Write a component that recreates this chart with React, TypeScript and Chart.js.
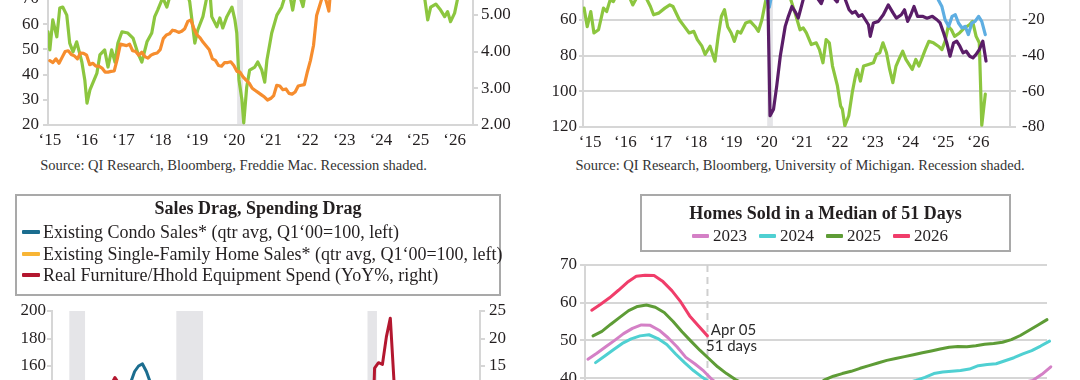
import React, { useEffect, useRef } from "react";
import { Chart, registerables } from "chart.js";

Chart.register(...registerables);

const SERIF = "'Palatino Linotype', 'Book Antiqua', Palatino, 'Liberation Serif', 'Times New Roman', serif";
const SANS = "Lato, 'Open Sans', 'Noto Sans', sans-serif";
const INK = "#231f20";
const RULE = "#d6d6d6";
const SHADE = "#e5e5e8";

// ---------------- Panel A (top-left): index (left) vs 30y mortgage rate (right)
const aGreenYears = [2014.95, 2015.0, 2015.08, 2015.19, 2015.27, 2015.35, 2015.46, 2015.54, 2015.63, 2015.73, 2015.87, 2015.95, 2016.01, 2016.09, 2016.28, 2016.36, 2016.49, 2016.58, 2016.68, 2016.77, 2016.85, 2016.96, 2017.12, 2017.26, 2017.39, 2017.5, 2017.64, 2017.77, 2017.85, 2017.93, 2018.07, 2018.18, 2018.32, 2018.48, 2018.67, 2018.8, 2018.94, 2019.02, 2019.16, 2019.27, 2019.35, 2019.4, 2019.54, 2019.62, 2019.7, 2019.81, 2019.95, 2020.03, 2020.08, 2020.14, 2020.22, 2020.27, 2020.35, 2020.43, 2020.57, 2020.65, 2020.76, 2020.84, 2020.9, 2021.03, 2021.17, 2021.3, 2021.39, 2021.49, 2021.6, 2021.71, 2021.88, 2022.01, 2022.2, 2022.39, 2022.61, 2022.8, 2023.0, 2023.3, 2023.6, 2023.9, 2024.2, 2024.5, 2024.8, 2025.0, 2025.19, 2025.27, 2025.35, 2025.49, 2025.62, 2025.73, 2025.81, 2025.89, 2026.0, 2026.08, 2026.2];
const aGreenValues = [57, 49.8, 61.7, 55, 66.4, 66.8, 63.6, 52.5, 49, 53, 45, 37.9, 28.7, 33.9, 40.6, 47.8, 49.8, 43, 49.8, 45, 52.5, 57, 56.5, 54.5, 48.6, 45, 53, 56.5, 63, 65.6, 70.5, 66.8, 74, 78, 75, 69, 52.5, 57.7, 63, 71, 73, 63, 59, 62.5, 58.5, 63, 66.8, 61.7, 56.5, 37.9, 30, 20.8, 35, 41.8, 43, 45, 41.8, 37, 45.8, 56.5, 63.6, 66.8, 71, 74, 65.6, 75, 67, 78, 85, 80, 76, 82, 88, 84, 90, 86, 92, 88, 84, 78, 70, 61.7, 66.8, 68, 65.6, 63, 65, 61, 64.4, 70, 74];
const aRateStartYear = 2015;
const aRateMonthly = [
  3.75, 3.7, 3.8, 3.68, 3.84, 4.0, 4.02, 3.92, 3.88, 3.8, 3.96, 3.95,
  3.9, 3.64, 3.68, 3.6, 3.6, 3.55, 3.44, 3.44, 3.46, 3.47, 3.8, 4.2,
  4.18, 4.16, 4.2, 4.02, 4.0, 3.9, 3.98, 3.86, 3.82, 3.9, 3.94, 3.96,
  4.05, 4.35, 4.45, 4.48, 4.58, 4.56, 4.52, 4.55, 4.62, 4.82, 4.86, 4.62,
  4.45, 4.37, 4.25, 4.15, 4.05, 3.8, 3.76, 3.62, 3.6, 3.7, 3.7, 3.72,
  3.62, 3.46, 3.44, 3.31, 3.22, 3.14, 3.0, 2.94, 2.88, 2.82, 2.76, 2.68,
  2.72, 2.8, 3.08, 3.06, 2.96, 2.98, 2.86, 2.84, 2.9, 3.06, 3.08, 3.1,
  3.45, 3.76, 4.17, 4.98, 5.25, 5.52, 5.41, 5.1, 6.11, 6.9, 6.81, 6.36,
  6.27, 6.26, 6.54, 6.34, 6.43, 6.71, 6.84, 7.07, 7.2, 7.62, 7.44, 6.82,
  6.64, 6.78, 6.82, 7.0, 7.06, 6.92, 6.85, 6.5, 6.18, 6.43, 6.81, 6.72,
  6.96, 6.84, 6.65, 6.73, 6.82, 6.82, 6.72, 6.59, 6.35, 6.25, 6.24, 6.19,
  6.1, 6.05, 6.15,
];
const aRecessions = [[2020.09, 2020.25]];
const aSource = "Source: QI Research, Bloomberg, Freddie Mac. Recession shaded.";

// ---------------- Panel B (top-right): sentiment series
const bGreenYears = [2014.83, 2014.92, 2015.02, 2015.11, 2015.24, 2015.38, 2015.47, 2015.57, 2015.66, 2015.8, 2015.95, 2016.11, 2016.21, 2016.34, 2016.45, 2016.57, 2016.71, 2016.8, 2016.94, 2017.12, 2017.26, 2017.35, 2017.53, 2017.67, 2017.81, 2017.94, 2018.04, 2018.17, 2018.26, 2018.4, 2018.54, 2018.63, 2018.72, 2018.81, 2018.9, 2019.0, 2019.09, 2019.18, 2019.27, 2019.41, 2019.54, 2019.68, 2019.77, 2019.87, 2020.0, 2020.1, 2020.3, 2020.5, 2020.66, 2020.81, 2020.95, 2021.04, 2021.13, 2021.27, 2021.41, 2021.5, 2021.6, 2021.69, 2021.78, 2021.87, 2022.01, 2022.1, 2022.15, 2022.22, 2022.33, 2022.43, 2022.52, 2022.57, 2022.66, 2022.75, 2022.89, 2023.03, 2023.12, 2023.21, 2023.3, 2023.4, 2023.49, 2023.58, 2023.67, 2023.77, 2023.86, 2023.95, 2024.04, 2024.13, 2024.23, 2024.32, 2024.41, 2024.5, 2024.6, 2024.73, 2024.87, 2024.97, 2025.06, 2025.15, 2025.24, 2025.33, 2025.47, 2025.61, 2025.75, 2025.84, 2025.94, 2026.03, 2026.1, 2026.2];
const bGreenValues = [53.5, 63.9, 55.4, 67.4, 65.6, 53.5, 55.4, 48.9, 49.8, 44, 45, 47, 51.7, 47, 44, 47, 52.6, 57.2, 56.3, 53.5, 51.7, 52.6, 60, 63.7, 67.4, 66.5, 71.1, 74.8, 79.4, 74.8, 83.2, 69.3, 58.2, 54.4, 63.9, 67.4, 72.1, 66.5, 67.4, 61.8, 60.9, 63.9, 66.5, 60, 47, 42, 38, 40, 47, 56.3, 65.6, 64.6, 67.4, 73.9, 72.9, 76.7, 84.1, 71.1, 72.9, 85.9, 97, 108.2, 110, 119.3, 113.7, 100.7, 91.5, 87.8, 94.3, 85.9, 85, 84.1, 79.4, 78.5, 72.9, 78.5, 87.8, 95.2, 85.9, 81.3, 77.6, 82.2, 85, 87.8, 82.2, 85.9, 81.3, 76.7, 72.1, 72.9, 74.8, 76.7, 72.1, 63.7, 65.6, 69.3, 67.4, 64.6, 62.8, 60.9, 69.3, 72.9, 119, 101.6];
const bPurpleYears = [2019.9, 2020.0, 2020.04, 2020.1, 2020.2, 2020.29, 2020.39, 2020.53, 2020.62, 2020.72, 2020.81, 2020.9, 2021.0, 2021.09, 2021.3, 2021.55, 2021.7, 2022.0, 2022.1, 2022.2, 2022.34, 2022.43, 2022.52, 2022.61, 2022.71, 2022.8, 2022.89, 2022.94, 2023.03, 2023.17, 2023.31, 2023.45, 2023.59, 2023.68, 2023.82, 2023.91, 2024.0, 2024.09, 2024.18, 2024.28, 2024.42, 2024.55, 2024.7, 2024.83, 2024.92, 2025.02, 2025.11, 2025.2, 2025.3, 2025.39, 2025.48, 2025.57, 2025.66, 2025.76, 2025.85, 2025.94, 2026.03, 2026.13, 2026.22];
const bPurpleValues = [2, -2, -8.9, -73.7, -70, -57, -40.4, -23.7, -18.1, -12.6, -15.4, -19, -11.7, -5, -4, -11, -3, -10, -4, -7, -14.4, -16.3, -15.4, -18.1, -17.2, -20, -22.8, -29.3, -21.8, -20.9, -17.2, -11.7, -16.3, -19.1, -17.2, -14.4, -20.9, -17.2, -12.6, -18.1, -18.1, -19.1, -18.1, -20, -21.8, -27.4, -33, -40.4, -33, -32, -34.8, -38.5, -37.6, -40.4, -41.3, -39.4, -36.7, -32, -43.1];
const bBlueYears = [2019.9, 2020.02, 2020.08, 2020.15, 2020.5, 2021.5, 2022.5, 2023.5, 2024.5, 2024.8, 2024.87, 2024.97, 2025.06, 2025.16, 2025.26, 2025.35, 2025.44, 2025.54, 2025.63, 2025.72, 2025.82, 2025.91, 2026.01, 2026.1, 2026.2];
const bBlueValues = [-4, -9, -13, -6, -3, 2, 0, 1, -2, -5, -8.9, -12.6, -20, -23.7, -18.1, -17.2, -21.8, -24.6, -23.7, -28.3, -21.8, -20.9, -18.1, -20.9, -28.3];
const bRecessions = [[2020.02, 2020.18]];
const bSource = "Source: QI Research, Bloomberg, University of Michigan. Recession shaded.";

// ---------------- Panel C (bottom-left): quarterly, starting Q1 2000
const cStartYear = 2000;
const cCondo = [100, 104, 106, 110, 112, 115, 117, 118, 120, 124, 128, 130, 128, 132, 138, 140, 140, 143, 145, 146, 148, 156, 160, 161.5, 156, 148, 140, 130, 120, 112, 100, 85, 72, 68, 65, 62, 64, 70, 78, 86, 80, 84, 72, 76, 76, 78, 80, 82, 86, 90, 94, 98, 102, 106, 108, 104, 100, 100, 104, 108, 110, 112, 114, 112, 110, 112, 114, 116, 118, 120, 118, 116, 114, 110, 106, 104, 102, 104, 106, 108, 108, 80, 120, 138, 140, 142, 136, 134, 128, 112, 96, 82, 76, 74, 72, 70, 68, 70, 68, 68, 66, 67, 66];
const cSingle = [100, 98, 96, 98, 100, 102, 103, 104, 106, 108, 112, 114, 114, 118, 126, 128, 126, 130, 132, 134, 136, 138, 140, 136, 130, 124, 118, 114, 108, 100, 92, 82, 78, 76, 78, 76, 76, 80, 88, 104, 86, 92, 76, 84, 88, 86, 88, 90, 94, 96, 98, 102, 106, 110, 114, 108, 104, 104, 108, 110, 112, 116, 118, 116, 116, 120, 120, 122, 122, 122, 120, 124, 120, 118, 116, 112, 110, 114, 116, 118, 118, 92, 128, 136, 132, 128, 128, 130, 124, 110, 98, 86, 86, 86, 82, 80, 80, 80, 80, 80, 82, 80, 82];
const cFurniture = [9, 8, 7, 5, 2, 1, 0, 3, 5, 6, 6, 7, 8, 9, 10, 11.5, 12.9, 11.8, 11, 10, 9, 8, 7, 7, 6, 5, 5, 4, 4, 3, 2, 1, -2, -4, -6, -9, -11, -10, -7, -3, 2, 4, 5, 6, 5, 4, 3, 4, 5, 6, 6, 7, 7, 7, 8, 8, 6, 6, 7, 7, 7, 6, 6, 5, 4, 4, 5, 6, 7, 8, 7, 8, 7, 6, 5, 4, 3, 4, 5, 5, 3, -8, 14.6, 15.6, 15.3, 20.3, 23.7, 11.5, 2, -3, -5, -6, -4, -3, -2, -1, 0, 1, 2, 2, 3, 2, 1];
const cRecessions = [[2001.1, 2002.1], [2007.9, 2009.6], [2020.05, 2020.65]];
const cTitle = "Sales Drag, Spending Drag";
const cLegendLabels = [
  "Existing Condo Sales* (qtr avg, Q1\u201800=100, left)",
  "Existing Single-Family Home Sales* (qtr avg, Q1\u201800=100, left)",
  "Real Furniture/Hhold Equipment Spend (YoY%, right)",
];
const cColors = ["#1b6d8f", "#f8b535", "#b3172f"];

// ---------------- Panel D (bottom-right): weekly median days on market, by year
const dYears = ["2023", "2024", "2025", "2026"];
const dFirstSunday = [1, 7, 5, 4]; // day-of-year of the first weekly observation
const d2023 = [45.0, 46.6, 48.3, 50.0, 51.8, 53.2, 54.1, 54.0, 52.7, 50.7, 48.3, 45.5, 43.8, 41.9, 39.5, 37.8, 36.5, 35.4, 34.5, 33.8, 33.2, 32.8, 32.5, 32.4, 32.4, 32.6, 32.9, 33.3, 33.7, 34.1, 34.5, 34.9, 35.2, 35.5, 35.8, 36.0, 36.2, 36.4, 36.6, 36.7, 36.8, 36.9, 37.0, 37.1, 37.3, 37.5, 37.7, 37.9, 38.3, 38.9, 39.4, 41.0, 43.0];
const d2024 = [44.1, 45.8, 47.5, 49.2, 50.4, 51.2, 51.5, 50.5, 48.9, 46.4, 44.1, 42.0, 40.2, 38.6, 37.2, 36.0, 35.0, 34.2, 33.6, 33.2, 33.0, 33.0, 33.2, 33.5, 33.9, 34.3, 34.7, 35.1, 35.5, 35.9, 36.3, 36.7, 37.1, 37.6, 38.1, 38.7, 39.4, 40.2, 41.2, 41.6, 41.8, 42.0, 42.4, 43.3, 43.6, 43.8, 44.6, 45.4, 46.4, 47.3, 48.5, 49.8];
const d2025 = [51.2, 52.4, 54.3, 56.1, 57.9, 59.0, 59.4, 58.8, 57.4, 55.0, 52.3, 49.8, 47.4, 45.2, 43.0, 41.2, 39.6, 38.4, 37.4, 36.6, 36.0, 35.6, 35.5, 35.8, 36.6, 37.8, 39.5, 40.5, 41.2, 41.8, 42.6, 43.3, 44.0, 44.7, 45.2, 45.7, 46.2, 46.7, 47.2, 47.7, 48.2, 48.4, 48.3, 48.6, 49.0, 49.2, 49.5, 50.2, 51.3, 52.7, 54.1, 55.5];
const d2026 = [58.0, 59.6, 61.3, 63.3, 65.4, 67.0, 67.3, 67.2, 65.6, 63.2, 60.2, 56.5, 53.8, 51.2];
const dColors = ["#d480c6", "#4fd0d2", "#5e9c36", "#f03d6a"];
const dTitle = "Homes Sold in a Median of 51 Days";
const dMarkerDate = "Apr 05";

// ---------------- helpers
const tickFont = { family: SERIF, size: 17 };

const yearTick = (v: any) => {
  const n = Number(v);
  return Number.isInteger(n) ? "\u2018" + String(n).slice(2) : "";
};

function makeShade(ranges: number[][]) {
  return {
    id: "shade",
    beforeDraw(chart: any) {
      const { ctx, chartArea, scales } = chart;
      ctx.save();
      ctx.fillStyle = SHADE;
      ranges.forEach(([a, b]) => {
        const x1 = scales.x.getPixelForValue(a);
        const x2 = scales.x.getPixelForValue(b);
        ctx.fillRect(x1, chartArea.top, x2 - x1, chartArea.bottom - chartArea.top);
      });
      ctx.restore();
    },
  };
}

function yScale(o: any) {
  const ticks: any = { stepSize: o.step, padding: o.pad, color: INK, font: tickFont, autoSkip: false };
  if (o.fmt) ticks.callback = o.fmt;
  return {
    type: "linear",
    position: o.position,
    min: o.min,
    max: o.max,
    reverse: !!o.reverse,
    afterFit: (s: any) => {
      s.width = o.width;
    },
    grid: { drawOnChartArea: !!o.lines, drawTicks: true, tickLength: o.tick, color: RULE, lineWidth: 2 },
    border: { display: true, color: RULE, width: 2 },
    ticks,
  };
}

function yearAxis(min: number, max: number, height: number) {
  return {
    type: "linear",
    min,
    max,
    afterFit: (s: any) => {
      s.height = height;
    },
    grid: { display: false, drawTicks: false },
    border: { display: true, color: RULE, width: 2 },
    ticks: { stepSize: 1, includeBounds: false, autoSkip: false, maxRotation: 0, padding: 5, color: INK, font: tickFont, callback: yearTick },
  };
}

const pairs = (xs: number[], ys: number[]) => xs.map((x, i) => ({ x, y: ys[i] }));

function line(data: any[], color: string, axis: string, width = 3.2, extra: any = {}) {
  return {
    data,
    borderColor: color,
    backgroundColor: color,
    borderWidth: width,
    pointRadius: 0,
    yAxisID: axis,
    borderJoinStyle: "round",
    borderCapStyle: "round",
    tension: 0,
    ...extra,
  };
}

const baseOptions = (padding: any) => ({
  animation: false,
  responsive: false,
  events: [],
  layout: { padding },
  plugins: { legend: { display: false }, tooltip: { enabled: false }, title: { display: false } },
});

function configA(): any {
  return {
    type: "line",
    data: {
      datasets: [
        line(aRateMonthly.map((y, i) => ({ x: aRateStartYear + i / 12, y })), "#f68d2e", "y2"),
        line(pairs(aGreenYears, aGreenValues), "#8cc63f", "y"),
      ],
    },
    options: {
      ...baseOptions({ top: 28.6, left: 0, right: 0, bottom: 0 }),
      scales: {
        x: yearAxis(2014.95, 2026.5, 30),
        y: yScale({ position: "left", min: 20, max: 90, step: 10, width: 48, tick: 5, pad: 4 }),
        y2: yScale({ position: "right", min: 2, max: 6.8, step: 1, width: 67, tick: 5, pad: 3, fmt: (v: any) => Number(v).toFixed(2) }),
      },
    },
    plugins: [makeShade(aRecessions)],
  };
}

function configB(): any {
  return {
    type: "line",
    data: {
      datasets: [
        line(pairs(bPurpleYears, bPurpleValues), "#5a1d68", "y2"),
        line(pairs(bBlueYears, bBlueValues), "#5eaee2", "y2"),
        line(pairs(bGreenYears, bGreenValues), "#8cc63f", "y"),
      ],
    },
    options: {
      ...baseOptions({ top: 34, left: 0, right: 0, bottom: 0 }),
      scales: {
        x: yearAxis(2014.8, 2026.9, 28),
        y: yScale({ position: "left", min: 40, max: 120, step: 20, width: 43, tick: 4, pad: 2, reverse: true, lines: true }),
        y2: yScale({ position: "right", min: -80, max: 0, step: 20, width: 70, tick: 6, pad: 6 }),
      },
    },
    plugins: [makeShade(bRecessions)],
  };
}

function configC(): any {
  const q = (arr: number[]) => arr.map((y, i) => ({ x: cStartYear + i * 0.25, y }));
  return {
    type: "line",
    data: {
      datasets: [
        line(q(cFurniture), cColors[2], "y2", 3),
        line(q(cCondo), cColors[0], "y", 3),
        line(q(cSingle), cColors[1], "y", 3),
      ],
    },
    options: {
      ...baseOptions({ top: 16, left: 0, right: 0, bottom: 24 }),
      scales: {
        x: { type: "linear", display: false, min: 2000, max: 2027.2 },
        y: yScale({ position: "left", min: 40, max: 200, step: 20, width: 52, tick: 5, pad: 1 }),
        y2: yScale({ position: "right", min: -15, max: 25, step: 5, width: 60, tick: 5, pad: 4 }),
      },
    },
    plugins: [makeShade(cRecessions)],
  };
}

function configD(): any {
  const series = [d2023, d2024, d2025, d2026];
  const weekly = (k: number) => series[k].map((y, i) => ({ x: dFirstSunday[k] + i * 7, y }));
  const last = series[3].length - 1;
  const markerDay = dFirstSunday[3] + last * 7;
  const markerValue = series[3][last];
  const marker = {
    id: "marker",
    beforeDatasetsDraw(chart: any) {
      const { ctx, chartArea, scales } = chart;
      const x = scales.x.getPixelForValue(markerDay);
      ctx.save();
      ctx.strokeStyle = "#cfcfcf";
      ctx.lineWidth = 2;
      ctx.setLineDash([7, 5]);
      ctx.beginPath();
      ctx.moveTo(x, chartArea.top);
      ctx.lineTo(x, chartArea.bottom);
      ctx.stroke();
      ctx.restore();
    },
    afterDatasetsDraw(chart: any) {
      const { ctx, scales } = chart;
      const x = scales.x.getPixelForValue(markerDay);
      const y = scales.y.getPixelForValue(markerValue);
      ctx.save();
      ctx.fillStyle = "#2b2b2b";
      ctx.font = `15px ${SANS}`;
      ctx.textAlign = "center";
      ctx.textBaseline = "middle";
      ctx.fillText(dMarkerDate, x + 26, y - 6);
      ctx.fillText(`${Math.round(markerValue)} days`, x + 24, y + 10);
      ctx.restore();
    },
  };
  return {
    type: "line",
    data: {
      datasets: [
        line(weekly(3), dColors[3], "y", 3, { clip: false }),
        line(weekly(2), dColors[2], "y", 3, { clip: false }),
        line(weekly(0), dColors[0], "y", 3, { clip: false }),
        line(weekly(1), dColors[1], "y", 3, { clip: false }),
      ],
    },
    options: {
      ...baseOptions({ top: 15, left: 0, right: 33, bottom: 26.5 }),
      scales: {
        x: { type: "linear", display: false, min: -1.3, max: 362 },
        y: yScale({ position: "left", min: 20, max: 70, step: 10, width: 45, tick: 5, pad: 3, lines: true }),
      },
    },
    plugins: [marker],
  };
}

export default function App() {
  const aRef = useRef<HTMLCanvasElement>(null);
  const bRef = useRef<HTMLCanvasElement>(null);
  const cRef = useRef<HTMLCanvasElement>(null);
  const dRef = useRef<HTMLCanvasElement>(null);

  useEffect(() => {
    Chart.defaults.font.family = SERIF;
    const charts = [
      new Chart(aRef.current as HTMLCanvasElement, configA()),
      new Chart(bRef.current as HTMLCanvasElement, configB()),
      new Chart(cRef.current as HTMLCanvasElement, configC()),
      new Chart(dRef.current as HTMLCanvasElement, configD()),
    ];
    return () => charts.forEach((c) => c.destroy());
  }, []);

  const abs = (left: number, top: number, extra: any = {}): React.CSSProperties => ({ position: "absolute", left, top, ...extra });
  const sourceStyle = (left: number, width: number) =>
    abs(left, 157, { width, textAlign: "center", fontSize: 14.5, lineHeight: "16px", color: "#333", whiteSpace: "nowrap" });

  return (
    <div style={{ position: "fixed", left: 0, top: 0, width: 1080, height: 380, overflow: "hidden", background: "#fff", fontFamily: SERIF, color: INK }}>
      <canvas ref={aRef} width={540} height={235} style={abs(0, -80)} />
      <canvas ref={bRef} width={540} height={205} style={abs(540, -50)} />
      <canvas ref={cRef} width={540} height={260} style={abs(0, 295)} />
      <canvas ref={dRef} width={540} height={230} style={abs(540, 250)} />

      <div style={sourceStyle(0, 467)}>{aSource}</div>
      <div style={sourceStyle(560, 480)}>{bSource}</div>

      <div style={abs(15, 194, { width: 486, height: 102, border: "2px solid #a9a9a9", boxSizing: "border-box" })}>
        <div style={abs(0, 1, { width: "100%", textAlign: "center", fontWeight: "bold", fontSize: 18, lineHeight: "22px" })}>{cTitle}</div>
        {cLegendLabels.map((label, i) => (
          <div key={label} style={abs(5, 25 + i * 21.5, { display: "flex", alignItems: "center", fontSize: 18, lineHeight: "22px", whiteSpace: "nowrap" })}>
            <span style={{ display: "inline-block", width: 18, height: 4, background: cColors[i], marginRight: 3, borderRadius: 1 }} />
            {label}
          </div>
        ))}
      </div>

      <div style={abs(640, 194, { width: 371, height: 58, border: "2px solid #a9a9a9", boxSizing: "border-box" })}>
        <div style={abs(0, 6, { width: "100%", textAlign: "center", fontWeight: "bold", fontSize: 18, lineHeight: "22px" })}>{dTitle}</div>
        <div style={abs(50, 29, { display: "flex", alignItems: "center", fontSize: 17, lineHeight: "22px", whiteSpace: "nowrap" })}>
          {dYears.map((y, i) => (
            <div key={y} style={{ display: "flex", alignItems: "center", marginRight: 12 }}>
              <span style={{ display: "inline-block", width: 17, height: 4, background: dColors[i], marginRight: 4, borderRadius: 1 }} />
              {y}
            </div>
          ))}
        </div>
      </div>
    </div>
  );
}
